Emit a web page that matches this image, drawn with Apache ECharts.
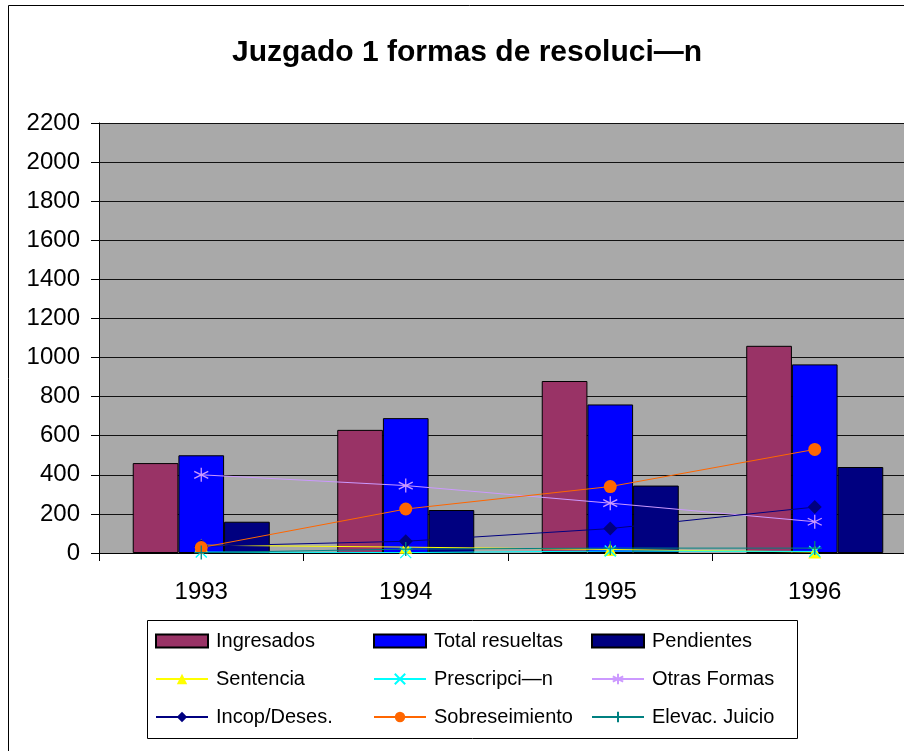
<!DOCTYPE html>
<html>
<head>
<meta charset="utf-8">
<script src="https://cdn.jsdelivr.net/npm/echarts@6/dist/echarts.min.js"></script>
<style>
  html, body { margin: 0; padding: 0; background: #fff; overflow: hidden; }
  #chart { width: 930px; height: 751px; }
</style>
</head>
<body>
<div id="chart"></div>
<script>
var years = ["1993", "1994", "1995", "1996"];
var yTicks = [0, 200, 400, 600, 800, 1000, 1200, 1400, 1600, 1800, 2000, 2200];

// bars
var ingresados = [460, 630, 880, 1060];
var totalResueltas = [500, 690, 760, 965];
var pendientes = [160, 220, 345, 440];

// lines
var sentencia = [40, 30, 18, 5];
var prescripcion = [5, 2, 10, 8];
var otrasFormas = [400, 345, 255, 160];
var incop = [35, 60, 125, 235];
var sobreseimiento = [28, 225, 340, 530];
var elevacJuicio = [2, 20, 25, 25];

var crossPath = "path://M0,0L10,10M10,0L0,10";
var starPath = "path://M5,0L5,10M0,2.5L10,7.5M10,2.5L0,7.5";
var plusPath = "path://M5,0L5,10M0,5L10,5";

function barSeries(name, data, color) {
    return {
        name: name,
        type: "bar",
        data: data,
        barGap: "0%",
        barCategoryGap: "33%",
        itemStyle: { color: color, borderColor: "#000", borderWidth: 1 }
    };
}

function lineSeries(name, data, color, symbol, size, open) {
    return {
        name: name,
        type: "line",
        data: data,
        symbol: symbol,
        symbolSize: size,
        showAllSymbol: true,
        z: 5,
        lineStyle: { color: color, width: 1 },
        itemStyle: open
            ? { color: color, borderColor: color, borderWidth: 1.3 }
            : { color: color, borderColor: color, borderWidth: 0 }
    };
}

var chart = echarts.init(document.getElementById("chart"));

var legendNames = [
    "Ingresados", "Total resueltas", "Pendientes",
    "Sentencia", "Prescripci—n", "Otras Formas",
    "Incop/Deses.", "Sobreseimiento", "Elevac. Juicio"
];

var option = {
    animation: false,
    textStyle: { fontFamily: "Liberation Sans, Arial, sans-serif" },
    title: {
        text: "Juzgado 1 formas de resoluci—n",
        left: 462,
        textAlign: "center",
        top: 33,
        textStyle: { fontSize: 30, fontWeight: "bold", color: "#000" }
    },
    graphic: [
        {
            type: "rect",
            shape: { x: 8.5, y: 5.5, width: 1000, height: 1000 },
            style: { fill: null, stroke: "#000", lineWidth: 1 },
            z: 0
        },
        {
            type: "rect",
            shape: { x: 147.5, y: 620.5, width: 650, height: 118 },
            style: { fill: null, stroke: "#000", lineWidth: 1 },
            z: 0
        }
    ],
    grid: {
        left: 99,
        top: 123,
        width: 818,
        height: 430,
        show: true,
        backgroundColor: "#a9a9a9",
        borderWidth: 0
    },
    legend: {
        left: 155,
        top: 628,
        width: 660,
        itemWidth: 52,
        itemHeight: 13,
        itemGap: 12,
        padding: 0,
        textStyle: { fontSize: 20, color: "#000", width: 145, lineHeight: 26, padding: [0, 0, 0, 3] },
        data: legendNames.map(function (n, i) {
            return i < 3 ? { name: n, icon: "rect" } : { name: n };
        })
    },
    xAxis: {
        type: "category",
        data: years,
        axisLine: { lineStyle: { color: "#000", width: 1 } },
        axisTick: { show: true, length: 8, interval: 0, lineStyle: { color: "#000" } },
        axisLabel: { fontSize: 24, color: "#000", margin: 27 }
    },
    yAxis: {
        type: "value",
        min: yTicks[0],
        max: yTicks[yTicks.length - 1],
        interval: 200,
        axisLine: { show: true, lineStyle: { color: "#000", width: 1 } },
        axisTick: { show: true, length: 8, lineStyle: { color: "#000" } },
        axisLabel: {
            fontSize: 24,
            color: "#000",
            margin: 19,
            formatter: function (v) { return String(v); }
        },
        splitLine: { show: true, lineStyle: { color: "#111", width: 1 } }
    },
    series: [
        barSeries("Ingresados", ingresados, "#993366"),
        barSeries("Total resueltas", totalResueltas, "#0000ff"),
        barSeries("Pendientes", pendientes, "#000080"),
        lineSeries("Sentencia", sentencia, "#ffff00", "triangle", 13, false),
        lineSeries("Prescripci—n", prescripcion, "#00ffff", crossPath, 11, true),
        lineSeries("Otras Formas", otrasFormas, "#cc99ff", starPath, 14, true),
        lineSeries("Incop/Deses.", incop, "#000080", "diamond", 14, false),
        lineSeries("Sobreseimiento", sobreseimiento, "#ff6600", "circle", 13, false),
        lineSeries("Elevac. Juicio", elevacJuicio, "#008080", plusPath, 14, true)
    ]
};

chart.setOption(option);

window.addEventListener("resize", function () {
    chart.resize();
});
</script>
</body>
</html>
